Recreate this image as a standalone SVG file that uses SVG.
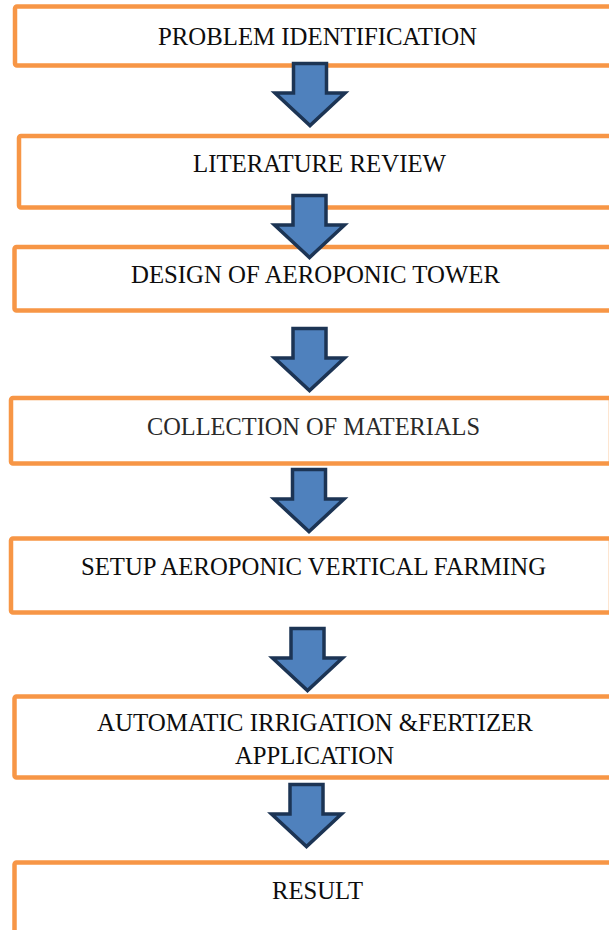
<svg xmlns="http://www.w3.org/2000/svg" width="609" height="930" viewBox="0 0 609 930">
<style>
.box{fill:#fff;stroke:#F79646;stroke-width:4.5}
.lbl{font-family:"Liberation Serif","Times New Roman",serif;font-size:26px;fill:#0d0d0d;text-anchor:middle}
.arrow{fill:#4F81BD;stroke:#1C3454;stroke-width:3.5;stroke-linejoin:miter}
</style>
<defs>
<path id="dn" d="M-16.5,1.5 H16.5 V31 H35 L0,63.5 L-35,31 H-16.5 Z"/>
</defs>
<rect width="609" height="930" fill="#fff"/>
<g id="nodes">
<g id="n1"><rect class="box" x="15" y="6.5" width="600" height="59" rx="2"/><text class="lbl" x="317.5" y="45" textLength="319" lengthAdjust="spacingAndGlyphs">PROBLEM IDENTIFICATION</text></g>
<g id="n2"><rect class="box" x="19" y="136" width="600" height="71.5" rx="2"/><text class="lbl" x="319.5" y="172" textLength="253" lengthAdjust="spacingAndGlyphs">LITERATURE REVIEW</text></g>
<g id="n3"><rect class="box" x="14.5" y="247" width="600" height="63.5" rx="2"/><text class="lbl" x="315.5" y="283" textLength="369" lengthAdjust="spacingAndGlyphs">DESIGN OF AEROPONIC TOWER</text></g>
<g id="n4"><rect class="box" x="11" y="398" width="600" height="65.5" rx="2"/><text class="lbl" x="313.5" y="435" textLength="333" lengthAdjust="spacingAndGlyphs" style="fill:#2a2a2a">COLLECTION OF MATERIALS</text></g>
<g id="n5"><rect class="box" x="11" y="538.5" width="600" height="74" rx="2"/><text class="lbl" x="313.5" y="575" textLength="465" lengthAdjust="spacingAndGlyphs">SETUP AEROPONIC VERTICAL FARMING</text></g>
<g id="n6"><rect class="box" x="14.5" y="696.5" width="600" height="81" rx="2"/><text class="lbl" x="315" y="731" textLength="436" lengthAdjust="spacingAndGlyphs">AUTOMATIC IRRIGATION &amp;FERTIZER</text><text class="lbl" x="314.5" y="764" textLength="159" lengthAdjust="spacingAndGlyphs">APPLICATION</text></g>
<g id="n7"><rect class="box" x="14.5" y="862.5" width="600" height="100" rx="2"/><text class="lbl" x="317.5" y="899" textLength="91" lengthAdjust="spacingAndGlyphs">RESULT</text></g>
</g>
<g id="connectors">
<use href="#dn" class="arrow" x="310" y="62"/>
<use href="#dn" class="arrow" x="309.5" y="194"/>
<use href="#dn" class="arrow" x="309.5" y="327"/>
<use href="#dn" class="arrow" x="309" y="468"/>
<use href="#dn" class="arrow" x="307.5" y="627"/>
<use href="#dn" class="arrow" x="306.5" y="783"/>
</g>
</svg>
